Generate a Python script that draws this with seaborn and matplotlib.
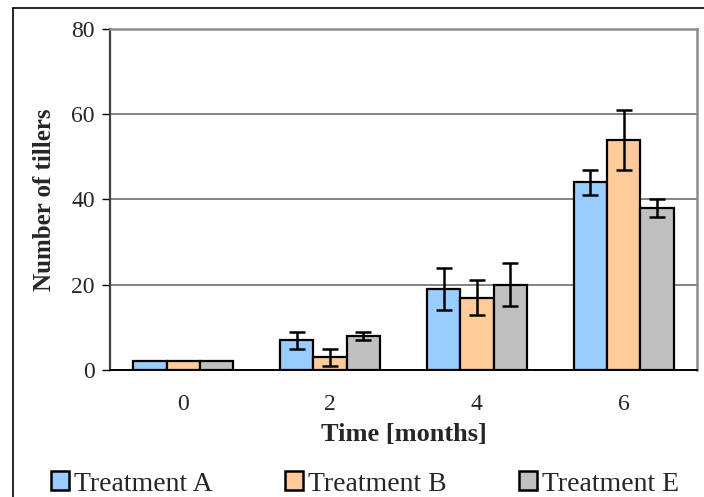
import matplotlib
matplotlib.use("Agg")
import matplotlib.pyplot as plt
import seaborn as sns
import pandas as pd
import numpy as np
from matplotlib.lines import Line2D
from matplotlib.patches import Patch

months = ["0", "2", "4", "6"]
treatments = ["Treatment A", "Treatment B", "Treatment E"]
vals_a = [2, 7, 19, 44]
vals_b = [2, 3, 17, 54]
vals_e = [2, 8, 20, 38]
err_a = [0, 2, 5, 3]
err_b = [0, 2, 4, 7]
err_e = [0, 1, 5, 2]
colors = ["#99CCFF", "#FFCC99", "#C0C0C0"]

rows = []
for t, vals in zip(treatments, [vals_a, vals_b, vals_e]):
    for m, v in zip(months, vals):
        rows.append({"Time": m, "Treatment": t, "Tillers": v})
df = pd.DataFrame(rows)

sns.set_style("white")
plt.rcParams["font.family"] = ["Liberation Serif", "DejaVu Serif"]

fig = plt.figure(figsize=(7.04, 4.97), dpi=100)
ax = fig.add_axes([110/704, 1-370/497, (697-110)/704, (370-29)/497])

sns.barplot(data=df, x="Time", y="Tillers", hue="Treatment", order=months,
            hue_order=treatments, palette=colors, width=0.68, ax=ax,
            edgecolor="black", linewidth=1.6, errorbar=None, legend=False,
            saturation=1)

for cont, errs, vals in zip(ax.containers, [err_a, err_b, err_e], [vals_a, vals_b, vals_e]):
    xs = [p.get_x() + p.get_width()/2 for p in cont.patches]
    for x, v, e in zip(xs, vals, errs):
        if e > 0:
            ax.errorbar(x, v, yerr=e, fmt="none", ecolor="black",
                        elinewidth=1.8, capsize=5.5, capthick=1.8, zorder=5)

ax.set_ylim(0, 80)
ax.set_xlim(-0.5, 3.5)
ax.set_yticks([0, 20, 40, 60, 80])
ax.yaxis.grid(True, color="#6e6e6e", linewidth=1.2)
ax.set_axisbelow(True)

ax.tick_params(axis="x", which="major", length=0, pad=17, labelsize=17)
ax.set_xticks([-0.5, 0.5, 1.5, 2.5, 3.5], minor=True)
ax.tick_params(axis="x", which="minor", length=5, width=1, color="black", direction="out")
ax.tick_params(axis="y", length=6, width=1, color="black", direction="out", pad=5, labelsize=17)
ax.tick_params(left=True, bottom=True)

for s in ["top", "right"]:
    ax.spines[s].set_visible(True)
    ax.spines[s].set_color("#8c8c8c")
    ax.spines[s].set_linewidth(1.8)
ax.spines["left"].set_color("#404040")
ax.spines["left"].set_linewidth(1.6)
ax.spines["bottom"].set_color("black")
ax.spines["bottom"].set_linewidth(1.4)

ax.set_xlabel("Time [months]", fontsize=19, fontweight="bold", labelpad=6)
ax.set_ylabel("Number of tillers", fontsize=18, fontweight="bold", labelpad=11)

# outer chart frame (partially cropped)
fig.add_artist(Line2D([13/704, 13/704], [0, 1-8/497], transform=fig.transFigure,
                      color="black", linewidth=1.2))
fig.add_artist(Line2D([13/704, 1], [1-8/497, 1-8/497], transform=fig.transFigure,
                      color="black", linewidth=1.2))

handles = [Patch(facecolor=c, edgecolor="black", linewidth=1.8) for c in colors]
fig.legend(handles, treatments, loc="center left", bbox_to_anchor=(51/704, 13/497),
           ncol=3, frameon=False, fontsize=20, handlelength=0.65, handleheight=0.65,
           handletextpad=0.18, columnspacing=2.6, borderaxespad=0, borderpad=0)

fig.savefig("out.png", dpi=100)
